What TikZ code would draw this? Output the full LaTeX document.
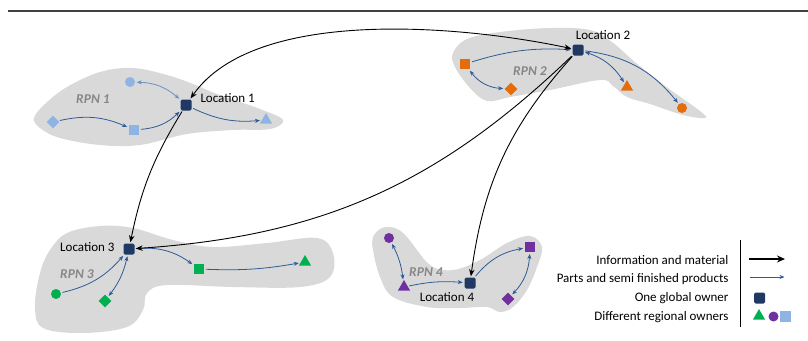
\documentclass[tikz,border=0pt]{standalone}
\usepackage{fontspec}
\setmainfont{Carlito}
\usepackage{tikz}
\usetikzlibrary{arrows,arrows.meta,positioning,shapes.geometric}
\definecolor{ownerblue}{RGB}{31,56,100}
\definecolor{partblue}{RGB}{47,90,150}
\definecolor{softblue}{RGB}{105,145,195}
\definecolor{lightblue}{RGB}{142,180,227}
\definecolor{rpnorange}{RGB}{228,108,10}
\definecolor{rpngreen}{RGB}{0,176,80}
\definecolor{rpnpurple}{RGB}{112,48,160}
\definecolor{blobgray}{RGB}{217,217,217}
\definecolor{rpngray}{RGB}{135,135,135}
\tikzset{owner/.style={rectangle, rounded corners=1.5pt, minimum size=11pt, inner sep=0pt, fill=ownerblue}}
\tikzset{sq/.style={rectangle, minimum size=10.5pt, inner sep=0pt, fill=#1}}
\tikzset{dot/.style={circle, minimum size=10pt, inner sep=0pt, fill=#1}}
\tikzset{dia/.style={diamond, minimum size=13pt, inner sep=0pt, fill=#1}}
\tikzset{tri/.style={regular polygon, regular polygon sides=3, minimum size=14pt, inner sep=0pt, fill=#1}}
\tikzset{part/.style={draw=partblue, line width=0.8pt, -{Stealth[length=5pt,width=4pt]}, shorten >=1.5pt, shorten <=1.5pt}}
\tikzset{both/.style={{Stealth[length=5pt,width=4pt]}-{Stealth[length=5pt,width=4pt]}}}
\tikzset{info/.style={draw=black, line width=0.9pt, -{Stealth[length=7pt,width=5.5pt]}, shorten >=1pt, shorten <=1pt}}
\tikzset{rpn/.style={font=\fontsize{13.5}{15}\selectfont\bfseries\itshape, text=rpngray}}

\begin{document}
\begin{tikzpicture}[x=1pt,y=1pt,font=\fontsize{13}{15}\selectfont]
		\useasboundingbox (0,0) rectangle (808,-340);
		\draw[line width=1.3pt, black!75] (8,-11) -- (808,-11);
		\fill[blobgray] plot[smooth cycle, tension=0.6] coordinates {(34,-118) (45,-104) (67,-87) (100,-72) (133,-68) (167,-75) (193,-84) (217,-94) (260,-109) (283,-120) (270,-129) (233,-130) (187,-134) (140,-145) (100,-145) (60,-138) (40,-128)};
		\fill[blobgray] plot[smooth cycle, tension=0.6] coordinates {(453,-53) (467,-39) (500,-32) (550,-28) (590,-30) (612,-42) (636,-63) (668,-88) (700,-111) (705,-118) (683,-115) (650,-104) (627,-97) (613,-86) (600,-80) (550,-90) (510,-97) (487,-101) (470,-88) (455,-67)};
		\fill[blobgray] plot[smooth cycle, tension=0.6] coordinates {(35,-307) (40,-273) (50,-250) (67,-233) (100,-226) (133,-228) (173,-240) (213,-247) (267,-243) (317,-238) (333,-253) (330,-277) (300,-287) (233,-287) (167,-285) (147,-293) (143,-310) (127,-327) (83,-333) (43,-328)};
		\fill[blobgray] plot[smooth cycle, tension=0.6] coordinates {(373,-237) (382,-228) (395,-228) (407,-237) (430,-265) (453,-270) (480,-260) (507,-243) (530,-236) (542,-247) (537,-267) (527,-290) (513,-307) (500,-312) (487,-307) (460,-308) (427,-307) (393,-297) (380,-277) (373,-250)};
		\node[rpn] (rpn1) at (93,-99) {RPN 1};
		\node[rpn] (rpn2) at (530,-71) {RPN 2};
		\node[rpn] (rpn3) at (77,-274) {RPN 3};
		\node[rpn] (rpn4) at (426,-272) {RPN 4};
		\node[owner] (loc1) at (186,-105) {};
		\node[anchor=west] (loc1txt) at (197,-98) {Location 1};
		\node[dot=lightblue] (c1) at (130,-82) {};
		\node[dia=lightblue] (d1) at (53,-122) {};
		\node[sq=lightblue] (s1) at (134,-130) {};
		\node[tri=lightblue] (t1) at (266,-120) {};
		\node[owner] (loc2) at (578,-50) {};
		\node (loc2txt) at (603,-35) {Location 2};
		\node[sq=rpnorange] (s2) at (465,-64) {};
		\node[dia=rpnorange] (d2) at (511,-89) {};
		\node[tri=rpnorange] (t2) at (627,-87) {};
		\node[dot=rpnorange] (c2) at (682,-108) {};
		\node[owner] (loc3) at (129,-249) {};
		\node[anchor=east] (loc3txt) at (118,-247) {Location 3};
		\node[dot=rpngreen] (c3) at (56,-294) {};
		\node[dia=rpngreen] (d3) at (105,-301) {};
		\node[sq=rpngreen] (s3) at (199,-269) {};
		\node[tri=rpngreen] (t3) at (305,-262) {};
		\node[owner] (loc4) at (470,-283) {};
		\node (loc4txt) at (447,-297) {Location 4};
		\node[dot=rpnpurple] (c4) at (389,-238) {};
		\node[tri=rpnpurple] (t4) at (404,-287) {};
		\node[sq=rpnpurple] (s4) at (530,-247) {};
		\node[dia=rpnpurple] (d4) at (508,-299) {};
		\draw[part, draw=softblue, both] (c1) to[bend left=20] (loc1);
		\draw[part] (d1) to[bend left=18] (s1);
		\draw[part] (s1) to[bend right=20] (loc1);
		\draw[part] (loc1) to[bend right=15] (t1);
		\draw[part] (s2) to[bend left=10] (loc2);
		\draw[part, both] (s2) to[bend right=25] (d2);
		\draw[part, both] (loc2) to[bend left=20] (t2);
		\draw[part] (loc2) to[bend left=22] (c2);
		\draw[part] (c3) to[bend right=18] (loc3);
		\draw[part, both] (d3) to[bend right=12] (loc3);
		\draw[part] (loc3) to[bend left=20] (s3);
		\draw[part] (s3) to[bend right=6] (t3);
		\draw[part, both] (c4) to[bend left=10] (t4);
		\draw[part] (t4) to[bend left=8] (loc4);
		\draw[part] (loc4) to[bend left=20] (s4);
		\draw[part, both] (s4) to[bend left=20] (d4);
		\draw[info, {Stealth[length=7pt,width=5.5pt]}-{Stealth[length=7pt,width=5.5pt]}] (loc1) to[out=55,in=168,looseness=0.75] (loc2);
		\draw[info] (loc1) to[bend right=10] (loc3);
		\draw[info] (loc2) to[bend left=20] (loc3);
		\draw[info] (loc2) to[bend right=17] (loc4);
		\draw[line width=0.8pt] (740,-240) -- (740,-327);
		\node[anchor=east] (key1) at (732,-260) {Information and material};
		\node[anchor=east] (key2) at (732,-279) {Parts and semi finished products};
		\node[anchor=east] (key3) at (732,-298) {One global owner};
		\node[anchor=east] (key4) at (732,-317) {Different regional owners};
		\coordinate (ka1) at (748,-259);
		\coordinate (kb1) at (786,-259);
		\coordinate (ka2) at (748,-277);
		\coordinate (kb2) at (786,-277);
		\draw[info, line width=1.3pt, -{Stealth[length=8pt,width=7pt]}] (ka1) -- (kb1);
		\draw[part] (ka2) -- (kb2);
		\node[owner] (kowner) at (759.5,-298) {};
		\node[tri=rpngreen] (ktri) at (759,-316) {};
		\node[dot=rpnpurple] (kdot) at (773.5,-316.5) {};
		\node[sq=lightblue] (ksq) at (785.5,-316.5) {};
\end{tikzpicture}
\end{document}
